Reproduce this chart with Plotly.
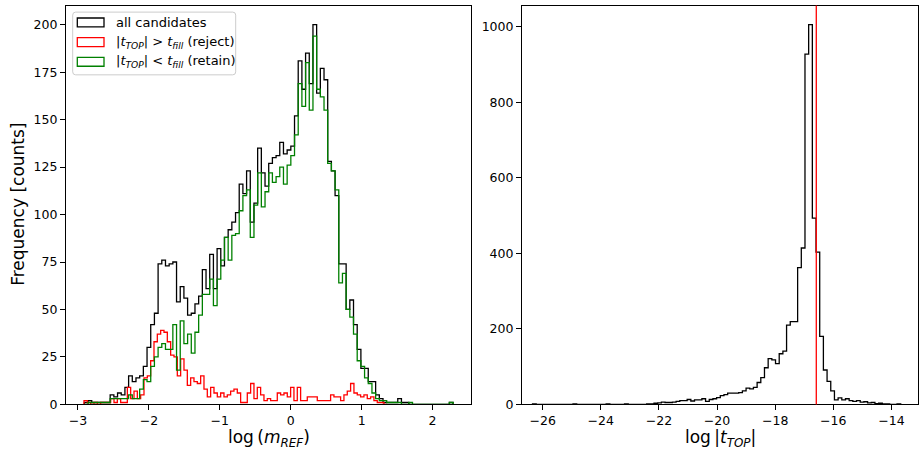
import numpy as np
import plotly.graph_objects as go

# ---------------- data ----------------
# left panel: log(m_REF) histograms
M_BIN_START = -2.91
M_BIN_WIDTH = 0.052
all_counts = [1, 2, 1, 1, 1, 1, 1, 5, 4, 6,
              5, 9, 15, 12, 14, 15, 20, 30, 42, 48,
              74, 76, 73, 74, 75, 54, 62, 56, 47, 48,
              53, 57, 71, 61, 79, 61, 82, 73, 88, 92,
              96, 101, 116, 111, 123, 96, 106, 135, 122, 115,
              127, 130, 131, 138, 132, 134, 136, 152, 181, 166,
              185, 169, 200, 164, 177, 171, 128, 123, 110, 74,
              74, 50, 55, 42, 29, 19, 19, 12, 12, 5,
              3, 1, 1, 1, 1, 3, 1, 1, 0, 0,
              0, 0, 0, 0, 0, 0, 0, 0, 0, 1]
retain_counts = [0, 1, 1, 1, 1, 1, 1, 3, 3, 3,
                 3, 3, 5, 3, 3, 8, 13, 12, 20, 25,
                 30, 32, 29, 29, 42, 18, 44, 32, 37, 27,
                 38, 47, 58, 58, 66, 52, 66, 76, 88, 76,
                 89, 90, 102, 110, 113, 88, 105, 122, 104, 112,
                 122, 117, 120, 125, 116, 126, 131, 142, 169, 157,
                 180, 155, 194, 166, 162, 155, 127, 123, 113, 64,
                 69, 50, 46, 37, 23, 20, 14, 11, 6, 3,
                 2, 2, 1, 1, 1, 1, 0, 0, 1, 0,
                 0, 0, 0, 0, 0, 0, 0, 0, 0, 1]
R_BIN_START = -2.915
R_BIN_WIDTH = 0.047
reject_counts = [2, 1, 0, 1, 0, 1, 1, 1, 3, 1,
                 3, 1, 1, 9, 3, 7, 3, 5, 14, 15,
                 23, 33, 37, 39, 38, 33, 26, 25, 15, 24,
                 18, 10, 14, 12, 11, 15, 8, 4, 9, 6,
                 4, 6, 4, 5, 7, 8, 6, 1, 1, 6,
                 11, 3, 9, 5, 2, 3, 2, 2, 6, 5,
                 6, 4, 9, 2, 9, 2, 2, 4, 4, 4,
                 2, 2, 2, 2, 5, 4, 4, 2, 5, 7,
                 11, 6, 5, 4, 5, 3, 4, 2, 1, 1,
                 0]

# right panel: log|t_TOP| histogram
T_BIN_START = -26.35
T_BIN_WIDTH = 0.1267
ttop_counts = [1, 0, 0, 0, 0, 0, 0, 0, 0, 0,
               0, 1, 0, 0, 0, 0, 0, 0, 0, 0,
               1, 0, 0, 0, 0, 1, 0, 0, 0, 0,
               0, 1, 1, 3, 4, 6, 5, 5, 6, 8,
               10, 10, 13, 9, 12, 12, 15, 8, 13, 15,
               18, 23, 26, 30, 30, 30, 31, 36, 43, 41,
               45, 58, 71, 97, 121, 118, 108, 134, 141, 210,
               219, 219, 362, 414, 927, 1005, 493, 403, 180, 91,
               61, 36, 12, 17, 12, 15, 10, 8, 10, 6,
               7, 4, 5, 2, 3, 1, 1, 0, 0, 1]
T_FILL = -16.585

left_xticks = [-3, -2, -1, 0, 1, 2]
left_yticks = [0, 25, 50, 75, 100, 125, 150, 175, 200]
right_xticks = [-26, -24, -22, -20, -18, -16, -14]
right_yticks = [0, 200, 400, 600, 800, 1000]

W, H = 920, 456
FONT = "DejaVu Sans"


def step_xy(start, width, counts):
    n = len(counts)
    edges = start + width * np.arange(n + 1)
    x = np.concatenate([[edges[0]], edges[:-1], [edges[-1]]])
    y = np.concatenate([[0], np.asarray(counts, float), [0]])
    return x, y


fig = go.Figure()

for start, width, counts, color in [
    (M_BIN_START, M_BIN_WIDTH, all_counts, "#000000"),
    (R_BIN_START, R_BIN_WIDTH, reject_counts, "#ff0000"),
    (M_BIN_START, M_BIN_WIDTH, retain_counts, "#008000"),
]:
    x, y = step_xy(start, width, counts)
    fig.add_trace(go.Scatter(x=x, y=y, mode="lines", line=dict(color=color, width=1.3, shape="hv"),
                             xaxis="x", yaxis="y", showlegend=False, hoverinfo="skip"))

x, y = step_xy(T_BIN_START, T_BIN_WIDTH, ttop_counts)
fig.add_trace(go.Scatter(x=x, y=y, mode="lines", line=dict(color="#000000", width=1.3, shape="hv"),
                         xaxis="x2", yaxis="y2", showlegend=False, hoverinfo="skip"))

fig.add_shape(type="line", xref="x2", yref="y2 domain", x0=T_FILL, x1=T_FILL, y0=0, y1=1,
              line=dict(color="#ff0000", width=1.3))

axis_common = dict(showline=True, linecolor="black", linewidth=1.1, mirror=True,
                   ticks="outside", ticklen=5, tickwidth=1.1, tickcolor="black",
                   showgrid=False, zeroline=False,
                   tickfont=dict(family=FONT, size=12.5, color="black"))

ydom = [1 - 410.7 / H, 1 - 5.7 / H]
fig.update_layout(
    width=W, height=H, margin=dict(l=0, r=0, t=0, b=0, pad=0), autosize=False,
    paper_bgcolor="white", plot_bgcolor="white", showlegend=False,
    xaxis=dict(domain=[66 / W, 471 / W], range=[-3.169, 2.543], tickvals=left_xticks, anchor="y", **axis_common),
    yaxis=dict(domain=ydom, range=[0, 210.06], tickvals=left_yticks, anchor="x", **axis_common),
    xaxis2=dict(domain=[522 / W, 918 / W], range=[-26.712, -13.085], tickvals=right_xticks, anchor="y2", **axis_common),
    yaxis2=dict(domain=ydom, range=[0, 1055.5], tickvals=right_yticks, anchor="x2", **axis_common),
)

# axis titles
fig.add_annotation(x=18 / W, y=1 - 208 / H, xref="paper", yref="paper", text="Frequency [counts]",
                   textangle=-90, xanchor="center", yanchor="middle", showarrow=False,
                   font=dict(family=FONT, size=17, color="black"))
fig.add_annotation(x=268.5 / W, y=1 - 445 / H, xref="paper", yref="paper",
                   text="log\u2009(<i>m</i><sub><i>REF</i></sub>)", xanchor="center", yanchor="middle",
                   showarrow=False, font=dict(family=FONT, size=17, color="black"))
fig.add_annotation(x=720 / W, y=1 - 445 / H, xref="paper", yref="paper",
                   text="log\u2009|<i>t</i><sub><i>TOP</i></sub>|", xanchor="center", yanchor="middle",
                   showarrow=False, font=dict(family=FONT, size=17, color="black"))

# legend (drawn manually to get matplotlib-style patch boxes)
bx0, bx1, by0, by1, r = 72.7, 235.7, 12.3, 76.0, 3.0


def px(xp):
    return xp / W


def py(yp):
    return 1 - yp / H


path = (f"M {px(bx0 + r)},{py(by0)} L {px(bx1 - r)},{py(by0)} Q {px(bx1)},{py(by0)} {px(bx1)},{py(by0 + r)} "
        f"L {px(bx1)},{py(by1 - r)} Q {px(bx1)},{py(by1)} {px(bx1 - r)},{py(by1)} "
        f"L {px(bx0 + r)},{py(by1)} Q {px(bx0)},{py(by1)} {px(bx0)},{py(by1 - r)} "
        f"L {px(bx0)},{py(by0 + r)} Q {px(bx0)},{py(by0)} {px(bx0 + r)},{py(by0)} Z")
fig.add_shape(type="path", path=path, xref="paper", yref="paper",
              fillcolor="rgba(255,255,255,0.8)", line=dict(color="#cccccc", width=1))

legend_items = [
    ("all candidates", "#000000"),
    ("|<i>t</i><sub><i>TOP</i></sub>| > <i>t</i><sub><i>fill</i></sub> (reject)", "#ff0000"),
    ("|<i>t</i><sub><i>TOP</i></sub>| < <i>t</i><sub><i>fill</i></sub> (retain)", "#008000"),
]
for i, (label, color) in enumerate(legend_items):
    ytop = 18.3 + 20 * i
    fig.add_shape(type="rect", xref="paper", yref="paper", x0=px(77.3), x1=px(104), y0=py(ytop + 9), y1=py(ytop),
                  line=dict(color=color, width=1.3), fillcolor="rgba(0,0,0,0)")
    fig.add_annotation(x=px(113.5), y=py(ytop + 4.5), xref="paper", yref="paper", text=label,
                       xanchor="left", yanchor="middle", showarrow=False,
                       font=dict(family=FONT, size=13, color="black"))

fig.write_html("out.html")
